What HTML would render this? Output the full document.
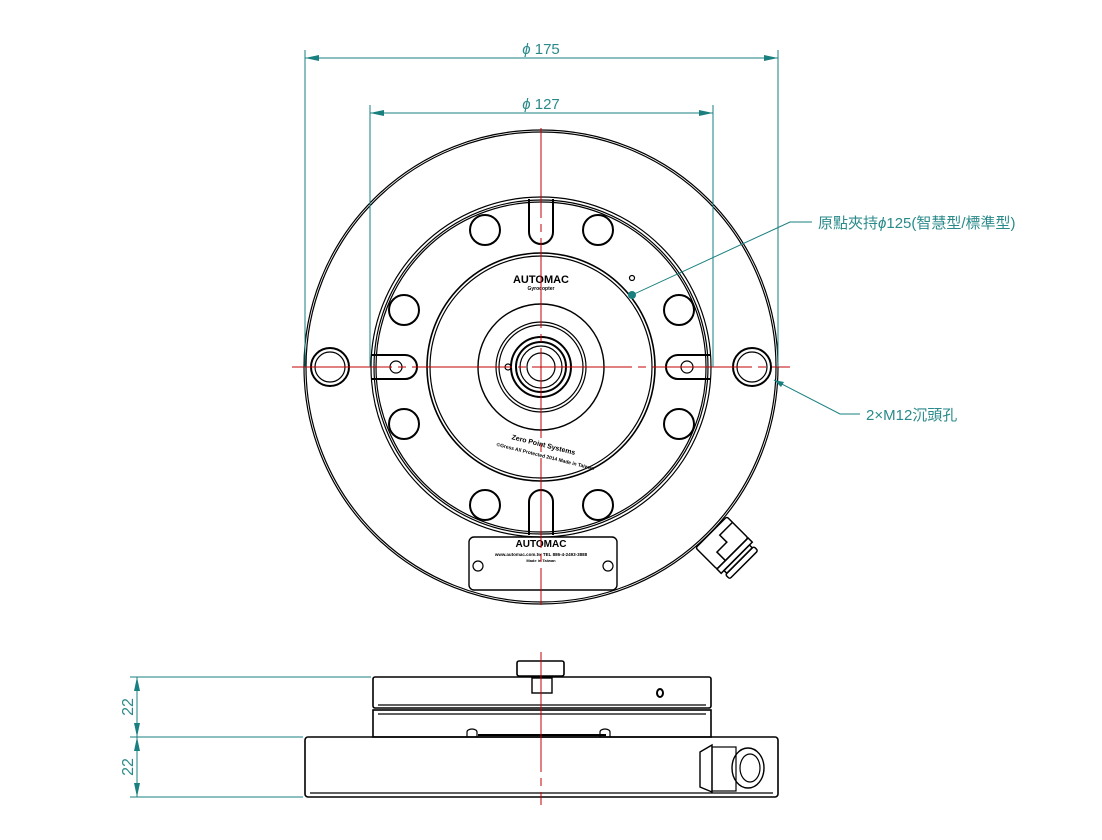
<!DOCTYPE html>
<html><head><meta charset="utf-8"><style>
html,body{margin:0;padding:0;background:#fff}
svg{display:block}
text{font-family:"Liberation Sans","Noto Sans CJK TC",sans-serif}
</style></head><body>
<svg width="1102" height="840" viewBox="0 0 1102 840" xmlns="http://www.w3.org/2000/svg">
<g fill="none" stroke="#000" stroke-width="1.2">
  <circle cx="541" cy="367" r="237"/>
  <circle cx="541" cy="367" r="235"/>
  <circle cx="541" cy="367" r="170"/>
  <circle cx="541" cy="367" r="167"/>
  <circle cx="541" cy="367" r="165"/>
  <circle cx="541" cy="367" r="114" stroke-width="1.6"/>
  <circle cx="541" cy="367" r="111"/>
  <circle cx="541" cy="367" r="63" stroke-width="1.4"/>
  <circle cx="541" cy="367" r="45"/>
  <circle cx="541" cy="367" r="42"/>
  <circle cx="541" cy="367" r="30" stroke-width="2"/>
  <circle cx="541" cy="367" r="25" stroke-width="2"/>
  <circle cx="541" cy="367" r="21"/>
  <circle cx="541" cy="367" r="14"/>
  <circle cx="508" cy="367" r="3"/>
  <circle cx="632" cy="278" r="2.5"/>
  <g stroke-width="2">
    <circle cx="485" cy="230" r="15"/><circle cx="598" cy="230" r="15"/>
    <circle cx="404" cy="310" r="15"/><circle cx="679" cy="310" r="15"/>
    <circle cx="404" cy="424" r="15"/><circle cx="679" cy="424" r="15"/>
    <circle cx="485" cy="505" r="15"/><circle cx="598" cy="505" r="15"/>
    <path d="M529 199 V232 A12 12 0 0 0 553 232 V199"/>
    <path d="M529 535 V502 A12 12 0 0 1 553 502 V535"/>
    <path d="M372 355 H405 A12 12 0 0 1 405 379 H372"/>
    <path d="M711 355 H678 A12 12 0 0 0 678 379 H711"/>
    <circle cx="330" cy="367" r="19"/><circle cx="752" cy="367" r="19"/>
  </g>
  <circle cx="330" cy="367" r="15"/><circle cx="752" cy="367" r="15"/>
  <circle cx="396" cy="367" r="6"/><circle cx="687" cy="367" r="6"/>
  <rect x="469" y="537" width="148" height="53" rx="5" stroke-width="1.4"/>
  <circle cx="478" cy="566" r="5"/><circle cx="608" cy="566" r="5"/>
  <g transform="translate(724,545) rotate(-45)" stroke-width="1.5">
    <rect x="-22" y="-18" width="44" height="30" rx="2"/>
    <path d="M-10 12 V0 H4 V-10 H22"/>
    <rect x="-22" y="12" width="44" height="6"/>
    <rect x="-18" y="18" width="36" height="4"/>
    <rect x="-20" y="22" width="40" height="6" rx="2"/>
  </g>
  <rect x="373" y="677" width="338" height="31" rx="2" stroke-width="1.6"/>
  <rect x="373" y="710" width="338" height="27" stroke-width="1.6"/>
  <line x1="378" y1="705" x2="706" y2="705"/>
  <line x1="378" y1="714" x2="706" y2="714"/>
  <line x1="478" y1="735" x2="606" y2="735" stroke-width="2"/>
  <rect x="305" y="737" width="473" height="60" rx="3" stroke-width="1.6"/>
  <line x1="310" y1="793" x2="773" y2="793"/>
  <rect x="517" y="661" width="47" height="15" rx="2" stroke-width="1.6"/>
  <rect x="532" y="678" width="20" height="15" stroke-width="1.4"/>
  <ellipse cx="660" cy="693" rx="3" ry="4" stroke-width="2"/>
  <path d="M700 752 L712 745 V792 L700 787 Z" stroke-width="1.4"/>
  <rect x="712" y="747" width="24" height="44"/>
  <ellipse cx="748" cy="768" rx="16" ry="20" stroke-width="1.4"/>
  <ellipse cx="750" cy="768" rx="10" ry="14"/>
  <path d="M467 737 V732 A5 3 0 0 1 477 732 V737 M600 737 V732 A5 3 0 0 1 610 732 V737"/>
</g>
<g fill="#000" font-weight="bold">
  <text x="541" y="283" font-size="11" text-anchor="middle">AUTOMAC</text>
  <text x="541" y="290" font-size="5" text-anchor="middle">Gyrocopter</text>
  <text x="541" y="547" font-size="10" text-anchor="middle">AUTOMAC</text>
  <text x="541" y="556" font-size="4.5" text-anchor="middle">www.automac.com.tw   TEL 886-4-2493-3888</text>
  <text x="541" y="562" font-size="4" text-anchor="middle">Made in Taiwan</text>
  <text x="543" y="447" font-size="7" text-anchor="middle" transform="rotate(14 543 447)">Zero Point Systems</text>
  <text x="545" y="458" font-size="5" text-anchor="middle" transform="rotate(14 545 458)">©Gress All Protected 2014   Made in Taiwan</text>
</g>
<g stroke="#c00000" stroke-width="1">
  <line x1="541" y1="128" x2="541" y2="605" stroke-dasharray="90 6 8 6"/>
  <line x1="292" y1="367" x2="790" y2="367" stroke-dasharray="100 6 8 6"/>
  <line x1="541" y1="652" x2="541" y2="805" stroke-dasharray="120 6 8 6"/>
</g>
<g stroke="#1a7f7f" stroke-width="1" fill="none">
  <line x1="305" y1="50" x2="305" y2="367"/><line x1="778" y1="50" x2="778" y2="367"/>
  <line x1="305" y1="58" x2="778" y2="58"/>
  <line x1="370" y1="105" x2="370" y2="367"/><line x1="713" y1="105" x2="713" y2="367"/>
  <line x1="370" y1="113" x2="713" y2="113"/>
  <line x1="130" y1="677" x2="371" y2="677"/>
  <line x1="130" y1="737" x2="303" y2="737"/>
  <line x1="130" y1="797" x2="303" y2="797"/>
  <line x1="137" y1="677" x2="137" y2="797"/>
  <polyline points="812,222 790,222 632,295"/>
  <polyline points="860,414 840,414 774,380"/>
</g>
<g fill="#1a7f7f">
  <path d="M305 58 l14 -3 v6 z M778 58 l-14 -3 v6 z"/>
  <path d="M370 113 l14 -3 v6 z M713 113 l-14 -3 v6 z"/>
  <path d="M137 677 l-3 14 h6 z M137 737 l-3 -14 h6 z M137 737 l-3 14 h6 z M137 797 l-3 -14 h6 z"/>
  <circle cx="632" cy="295" r="4"/>
  <path d="M774 380 l10 2 -3 5 z"/>
</g>
<g fill="#2a8a8a" font-size="15">
  <text x="541" y="54" text-anchor="middle"><tspan font-style="italic">ϕ</tspan> 175</text>
  <text x="541" y="109" text-anchor="middle"><tspan font-style="italic">ϕ</tspan> 127</text>
  <text x="818" y="228">原點夾持<tspan font-style="italic">ϕ</tspan>125(智慧型/標準型)</text>
  <text x="866" y="420">2×M12沉頭孔</text>
  <text transform="translate(133,707) rotate(-90)" text-anchor="middle" font-size="16">22</text>
  <text transform="translate(133,767) rotate(-90)" text-anchor="middle" font-size="16">22</text>
</g>
</svg>
</body></html>
